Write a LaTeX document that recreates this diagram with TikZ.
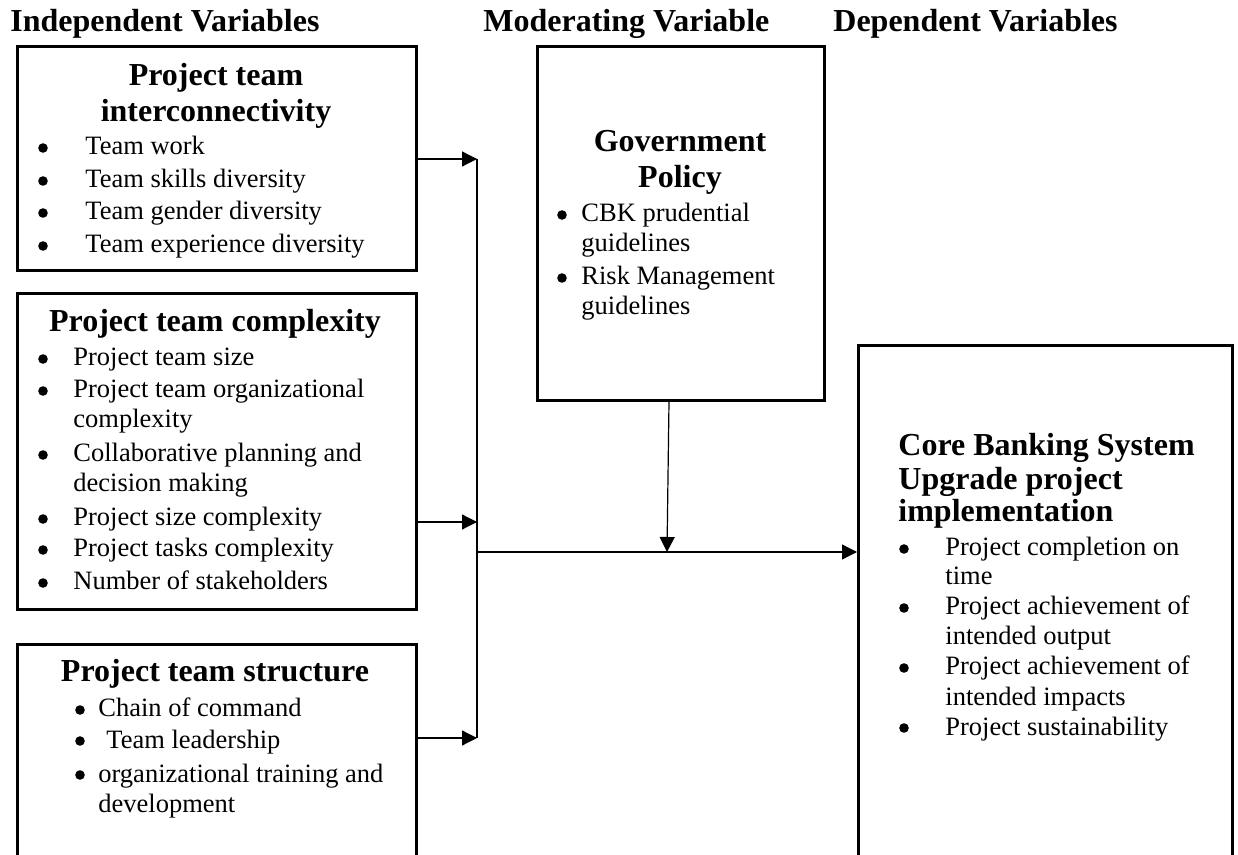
\documentclass[tikz,border=0pt]{standalone}
\usepackage{fontspec}
\setmainfont{Liberation Serif}
\usetikzlibrary{arrows.meta}
\begin{document}
\begin{tikzpicture}[x=0.5pt,y=-0.5pt,
  box/.style={draw, line width=1.35pt, inner sep=0pt, anchor=north west},
  conn/.style={line width=0.6pt},
  arr/.style={conn, -{Triangle[length=7.5pt,width=7.5pt]}},
  hd/.style={font=\fontsize{16}{19}\selectfont\bfseries, inner sep=0pt, anchor=base west},
  tl/.style={font=\fontsize{16}{19}\selectfont\bfseries, inner sep=0pt, anchor=base},
  tlw/.style={font=\fontsize{16}{19}\selectfont\bfseries, inner sep=0pt, anchor=base west},
  tx/.style={font=\fontsize{13.25}{16}\selectfont, inner sep=0pt, anchor=base west},
  bu/.style={circle, fill, draw=none, inner sep=0pt, minimum size=4.8pt},
]
\useasboundingbox (0,0) rectangle (1238,855);
\clip (0,0) rectangle (1238,855);

% headers
\node[hd] (h1) at (10,32) {Independent Variables};
\node[hd] (h2) at (483,32) {Moderating Variable};
\node[hd] (h3) at (833,32) {Dependent Variables};

% boxes
\node[box, minimum width=199.5pt, minimum height=112pt] (b1) at (16,45) {};
\node[box, minimum width=199.5pt, minimum height=158pt] (b2) at (16,292) {};
\node[box, minimum width=199.5pt, minimum height=150pt] (b3) at (16,643) {};
\node[box, minimum width=143.5pt, minimum height=177pt] (gov) at (536,45) {};
\node[box, minimum width=187pt, minimum height=300pt] (core) at (857,344) {};

% box 1
\node[tl] (b1h1) at (216,86) {Project team};
\node[tl] (b1h2) at (216,122) {interconnectivity};
\foreach \yy/\s [count=\i] in {155/Team work,188/Team skills diversity,220/Team gender diversity,253/Team experience diversity}{
  \node[bu] (b1d\i) at (43,\yy-7) {};
  \node[tx] (b1t\i) at (85,\yy) {\s};
}

% box 2
\node[tl] (b2h) at (215,332) {Project team complexity};
\foreach \yy [count=\i] in {366,398,462,526,557,590}{
  \node[bu] (b2d\i) at (43,\yy-7) {};
}
\foreach \yy/\s [count=\i] in {366/Project team size,398/Project team organizational,428/complexity,462/Collaborative planning and,492/decision making,526/Project size complexity,557/Project tasks complexity,590/Number of stakeholders}{
  \node[tx] (b2t\i) at (73,\yy) {\s};
}

% box 3
\node[tl] (b3h) at (215,682) {Project team structure};
\foreach \yy [count=\i] in {717,748,782}{
  \node[bu] (b3d\i) at (80,\yy-7) {};
}
\node[tx] (b3t1) at (98,717) {Chain of command};
\node[tx] (b3t2) at (106,748) {Team leadership};
\node[tx] (b3t3) at (98,782) {organizational training and};
\node[tx] (b3t4) at (98,812) {development};

% government box
\node[tl] (gh1) at (680,152) {Government};
\node[tl] (gh2) at (680,188) {Policy};
\node[bu] (gd1) at (562,222-7) {};
\node[bu] (gd2) at (562,285-7) {};
\node[tx] (gt1) at (581,222) {CBK prudential};
\node[tx] (gt2) at (581,252) {guidelines};
\node[tx] (gt3) at (581,285) {Risk Management};
\node[tx] (gt4) at (581,315) {guidelines};

% core box
\node[tlw] (ch1) at (898,456) {Core Banking System};
\node[tlw] (ch2) at (898,490) {Upgrade project};
\node[tlw] (ch3) at (898,522) {implementation};
\foreach \yy [count=\i] in {556,615,675,735}{
  \node[bu] (cd\i) at (904,\yy-7) {};
}
\foreach \yy/\s [count=\i] in {556/Project completion on,585/time,615/Project achievement of,645/intended output,675/Project achievement of,705/intended impacts,735/Project sustainability}{
  \node[tx] (ct\i) at (945,\yy) {\s};
}

% connectors
\coordinate (j1) at (477,159);
\coordinate (j2) at (477,522);
\coordinate (j3) at (477,738);
\coordinate (m) at (477,552);
\coordinate (gtop) at (669,399);
\coordinate (gend) at (667,552);
\draw[conn] (j1) -- (j3);
\draw[arr] (b1.east |- j1) -- (j1);
\draw[arr] (b2.east |- j2) -- (j2);
\draw[arr] (b3.east |- j3) -- (j3);
\draw[arr] (m) -- (core.west |- m);
\draw[arr] (gov.south -| gtop) -- (gend);
\end{tikzpicture}
\end{document}
